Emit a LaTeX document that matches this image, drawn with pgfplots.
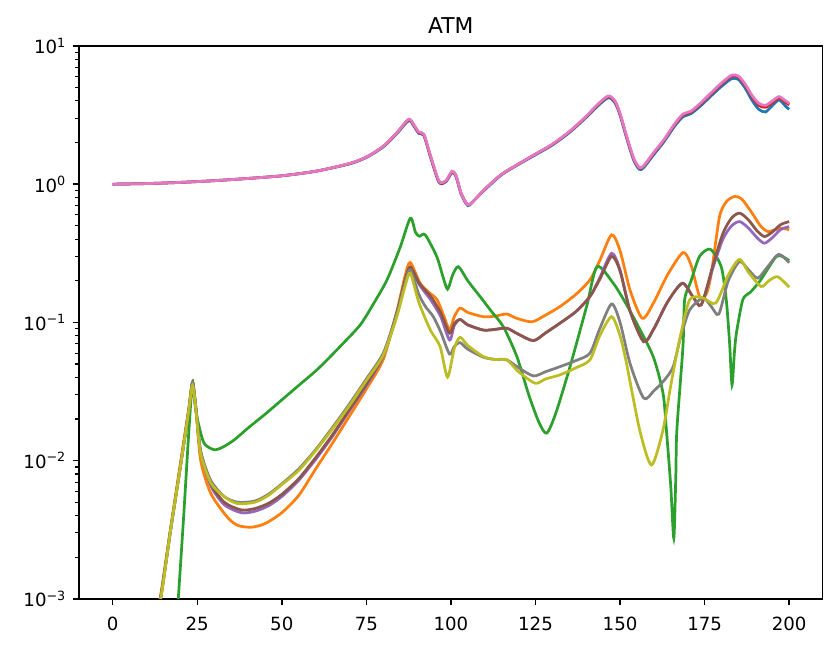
\documentclass[border=0pt]{standalone}
\usepackage{fontspec}
\setmainfont{DejaVu Sans}
\usepackage{pgfplots}
\pgfplotsset{compat=1.18}
\definecolor{c0}{HTML}{1F77B4}
\definecolor{c1}{HTML}{FF7F0E}
\definecolor{c2}{HTML}{2CA02C}
\definecolor{c3}{HTML}{D62728}
\definecolor{c4}{HTML}{9467BD}
\definecolor{c5}{HTML}{8C564B}
\definecolor{c6}{HTML}{E377C2}
\definecolor{c7}{HTML}{7F7F7F}
\definecolor{c8}{HTML}{BCBD22}
\begin{document}
\begin{tikzpicture}
\path[use as bounding box] (-43.5pt,-28.1pt) rectangle (417.3pt,329.7pt);
\begin{axis}[
  at={(0,0)}, anchor=south west,
  scale only axis, width=409.4pt, height=304.4pt,
  ymode=log, xmin=-9.95, xmax=209.9, ymin=1e-3, ymax=10,
  xtick={0,25,...,200},
  ytick={1e-3,1e-2,1e-1,1,10},
  yticklabels={10\textsuperscript{−3},10\textsuperscript{−2},10\textsuperscript{−1},10\textsuperscript{0},10\textsuperscript{1}},
  /pgf/number format/assume math mode=true,
  tick align=outside, tick pos=left,
  major tick length=3.5pt, minor tick length=2pt,
  every major tick/.style={black, line width=0.8pt},
  every minor tick/.style={black, line width=0.6pt},
  axis line style={black, line width=0.8pt},
  title={ATM},
  every axis title shift=0pt,
  title style={at={(axis description cs:0.5,1)}, anchor=base, yshift=6.6pt, inner sep=0pt, font=\fontsize{12}{14.4}\selectfont},
  xticklabel style={font=\fontsize{10}{12}\selectfont, yshift=-3pt},
  yticklabel style={font=\fontsize{10}{12}\selectfont},
  every axis plot/.append style={line width=1.5pt, smooth, tension=0.45},
]
% C0 blue
\addplot[c0] coordinates {(0,1.0)(10,1.01)(20,1.03)(30,1.06)(40,1.10)(50,1.15)(60,1.24)(70,1.40)(75,1.56)(80,1.86)(84,2.32)(87.5,2.88)(89,2.64)(90.5,2.33)(92,2.25)(94,1.56)(96.5,1.03)(98.5,1.04)(100.3,1.21)(101.5,1.14)(103,0.85)(105,0.70)(107,0.77)(110,0.91)(115,1.17)(120,1.39)(125,1.63)(130,1.92)(135,2.36)(140,3.04)(143,3.6)(146.5,4.22)(148.5,3.88)(150,3.15)(152,2.13)(154,1.5)(155.7,1.28)(157,1.32)(160,1.64)(163,2.03)(166,2.6)(168.5,3.06)(171,3.24)(174,3.72)(177,4.37)(180,5.1)(183,5.8)(185,5.72)(187,4.95)(189,4.05)(191,3.48)(193,3.33)(195,3.7)(197,4.07)(199,3.65)(200,3.48)};
% C1 orange
\addplot[c1] coordinates {(10,0.0003)(14,0.001)(17,0.0031)(20,0.0095)(22.5,0.024)(23.6,0.037)(24.6,0.024)(26,0.0101)(29,0.0058)(33.9,0.0039)(37,0.0034)(41,0.0033)(45,0.0035)(50,0.0042)(55,0.0056)(60,0.0087)(65,0.0134)(70,0.021)(75,0.033)(80,0.054)(84,0.12)(86.5,0.22)(88,0.271)(90.9,0.192)(93.5,0.165)(95.9,0.146)(98,0.11)(99.6,0.0883)(101,0.11)(102.7,0.127)(105,0.118)(109.6,0.110)(113,0.111)(116.5,0.115)(119,0.108)(123.9,0.101)(128,0.113)(132.2,0.130)(137,0.16)(141.1,0.203)(144,0.28)(147.5,0.43)(150,0.33)(153,0.17)(156.6,0.107)(160,0.14)(164,0.22)(168.6,0.32)(171,0.26)(173.5,0.154)(175.5,0.16)(177,0.227)(179.4,0.58)(181.5,0.75)(183.9,0.815)(186,0.78)(189,0.62)(191.5,0.5)(193.7,0.454)(196,0.47)(198,0.48)(200,0.467)};
% C2 green
\addplot[c2] coordinates {(17.5,0.0002)(19.4,0.001)(21,0.004)(22.5,0.016)(23.6,0.037)(24.3,0.026)(25.1,0.0197)(27,0.0134)(30,0.012)(32.5,0.0125)(35.9,0.0141)(40,0.0172)(45,0.0216)(50,0.0275)(55,0.035)(60,0.0445)(63.4,0.0536)(68,0.07)(73.2,0.096)(77,0.135)(81.1,0.203)(85,0.35)(88,0.567)(89.5,0.45)(90.7,0.42)(92.4,0.43)(95.8,0.30)(97.5,0.22)(99,0.174)(100.5,0.22)(102.2,0.253)(105,0.2)(108.6,0.154)(112,0.12)(115.5,0.093)(119.5,0.0566)(123,0.03)(126,0.019)(128.3,0.0158)(131,0.022)(135.2,0.0478)(140.1,0.130)(143.2,0.253)(148,0.192)(151.5,0.14)(154.9,0.0986)(159.8,0.0566)(162.7,0.0308)(163.7,0.0167)(165,0.0065)(165.9,0.00275)(166.5,0.008)(166.8,0.0167)(168.6,0.067)(169.1,0.146)(171,0.2)(173.5,0.3)(176.7,0.338)(179.9,0.253)(181.4,0.146)(182.4,0.07)(183.1,0.0353)(183.8,0.06)(184.4,0.0836)(186.3,0.146)(188.5,0.165)(191.2,0.197)(193.5,0.24)(196.2,0.30)(198,0.3)(200,0.28)};
% C3 red
\addplot[c3] coordinates {(0,1.0)(10,1.01)(20,1.03)(30,1.06)(40,1.10)(50,1.15)(60,1.24)(70,1.41)(75,1.57)(80,1.88)(84,2.35)(87.5,2.93)(89,2.68)(90.5,2.36)(92,2.28)(94,1.58)(96.5,1.04)(98.5,1.05)(100.3,1.23)(101.5,1.15)(103,0.86)(105,0.71)(107,0.77)(110,0.92)(115,1.18)(120,1.4)(125,1.65)(130,1.94)(135,2.39)(140,3.08)(143,3.67)(146.5,4.3)(148.5,3.96)(150,3.22)(152,2.18)(154,1.53)(155.7,1.31)(157,1.35)(160,1.68)(163,2.08)(166,2.67)(168.5,3.15)(171,3.33)(174,3.84)(177,4.52)(180,5.3)(183,6.05)(185,5.95)(187,5.2)(189,4.3)(191,3.72)(193,3.6)(195,3.88)(197,4.2)(199,3.9)(200,3.75)};
% C4 purple
\addplot[c4] coordinates {(10,0.0003)(14,0.00095)(17,0.003)(20,0.009)(22.5,0.023)(23.6,0.036)(24.6,0.024)(26,0.0115)(29,0.0066)(33,0.0048)(38,0.0042)(42,0.0043)(46,0.0047)(50,0.0055)(55,0.0072)(60,0.0102)(65,0.015)(70,0.023)(75,0.035)(80,0.057)(84,0.115)(86.5,0.2)(88,0.247)(90.5,0.19)(92.5,0.163)(94.4,0.141)(97,0.11)(99.6,0.0746)(101,0.095)(102.7,0.105)(105,0.096)(109.6,0.088)(113,0.089)(116.5,0.0908)(120,0.082)(124.4,0.0738)(128,0.084)(132.2,0.0986)(137,0.12)(141.1,0.154)(144,0.21)(147.5,0.316)(150,0.24)(153,0.12)(157,0.0726)(160,0.09)(164,0.14)(168.4,0.192)(171.5,0.154)(174,0.134)(177.5,0.25)(180.4,0.40)(183,0.5)(185.4,0.536)(188,0.48)(190.5,0.41)(192.7,0.374)(195,0.41)(197.5,0.47)(200,0.493)};
% C5 brown
\addplot[c5] coordinates {(10,0.0003)(14,0.00095)(17,0.003)(20,0.009)(22.5,0.023)(23.6,0.036)(24.6,0.024)(26,0.0117)(29,0.0068)(33,0.005)(38,0.0044)(42,0.0045)(46,0.0049)(50,0.0057)(55,0.0074)(60,0.0105)(65,0.0154)(70,0.0235)(75,0.036)(80,0.058)(84,0.118)(86.5,0.205)(88,0.252)(90.5,0.195)(92.5,0.17)(94.4,0.15)(97,0.117)(99.6,0.0836)(101,0.098)(102.7,0.105)(105,0.096)(109.6,0.088)(113,0.089)(116.5,0.0908)(120,0.082)(124.4,0.0738)(128,0.084)(132.2,0.0986)(137,0.12)(141.1,0.154)(144,0.205)(147.5,0.30)(150,0.235)(153,0.12)(157,0.0726)(160,0.09)(164,0.14)(168.4,0.192)(171.5,0.154)(174,0.134)(177.5,0.26)(180.4,0.44)(183,0.57)(185.4,0.617)(188,0.55)(190.5,0.46)(192.7,0.418)(195,0.45)(197.5,0.51)(200,0.536)};
% C6 pink
\addplot[c6] coordinates {(0,1.0)(10,1.01)(20,1.03)(30,1.06)(40,1.10)(50,1.15)(60,1.24)(70,1.41)(75,1.57)(80,1.88)(84,2.35)(87.5,2.95)(89,2.7)(90.5,2.38)(92,2.3)(94,1.6)(96.5,1.05)(98.5,1.06)(100.3,1.24)(101.5,1.16)(103,0.86)(105,0.71)(107,0.77)(110,0.92)(115,1.18)(120,1.4)(125,1.65)(130,1.95)(135,2.4)(140,3.1)(143,3.7)(146.5,4.35)(148.5,4.0)(150,3.25)(152,2.2)(154,1.55)(155.7,1.32)(157,1.36)(160,1.7)(163,2.1)(166,2.7)(168.5,3.2)(171,3.38)(174,3.9)(177,4.6)(180,5.4)(183,6.15)(185,6.05)(187,5.3)(189,4.4)(191,3.85)(193,3.72)(195,4.0)(197,4.3)(199,4.0)(200,3.85)};
% C7 gray
\addplot[c7] coordinates {(10,0.0003)(14,0.00095)(17,0.003)(20,0.009)(22.5,0.023)(23.6,0.037)(24.6,0.024)(26,0.0118)(29,0.0072)(33,0.0055)(37,0.0050)(42,0.0051)(46,0.0057)(50,0.0068)(55,0.0087)(60,0.012)(65,0.0174)(70,0.0257)(75,0.039)(80,0.06)(84,0.115)(86.5,0.195)(88,0.24)(90.5,0.16)(92.5,0.13)(94.8,0.11)(97,0.085)(99.6,0.059)(101,0.067)(102.7,0.0714)(105,0.064)(109.6,0.056)(113,0.054)(116.5,0.0536)(120,0.047)(124.4,0.041)(128,0.044)(132.2,0.0478)(137,0.053)(141.1,0.0599)(144,0.09)(147.5,0.136)(150,0.1)(153,0.05)(157,0.0283)(160,0.032)(163,0.038)(165.7,0.0478)(168,0.08)(170.6,0.123)(174.5,0.15)(177,0.13)(179.2,0.115)(182,0.2)(185.3,0.275)(188,0.24)(190.7,0.209)(193.5,0.25)(196.9,0.311)(200,0.27)};
% C8 olive
\addplot[c8] coordinates {(10,0.0003)(14.2,0.001)(17,0.003)(20,0.009)(22.5,0.023)(23.6,0.035)(24.6,0.0233)(26,0.0113)(29,0.0069)(32.9,0.0055)(36.8,0.0049)(42,0.005)(46,0.0056)(50,0.0067)(55,0.0085)(60,0.0118)(65,0.017)(70,0.025)(75,0.038)(80,0.058)(84,0.11)(86.5,0.185)(88,0.227)(90.5,0.14)(93.9,0.0883)(96.8,0.0669)(99,0.0402)(101,0.065)(102.7,0.078)(105,0.068)(109.6,0.0566)(113,0.054)(116.5,0.0536)(120,0.044)(124.9,0.0363)(128,0.039)(132.2,0.0417)(137,0.047)(141.1,0.0536)(144,0.08)(147.5,0.110)(150,0.08)(151.9,0.0507)(155.8,0.0167)(159.3,0.0093)(162.7,0.0167)(165,0.035)(167.6,0.0746)(170.6,0.146)(174.5,0.15)(178.3,0.138)(182,0.22)(185.3,0.286)(188,0.23)(191.7,0.182)(194,0.2)(196.6,0.214)(200,0.18)};
\end{axis}
\end{tikzpicture}
\end{document}
